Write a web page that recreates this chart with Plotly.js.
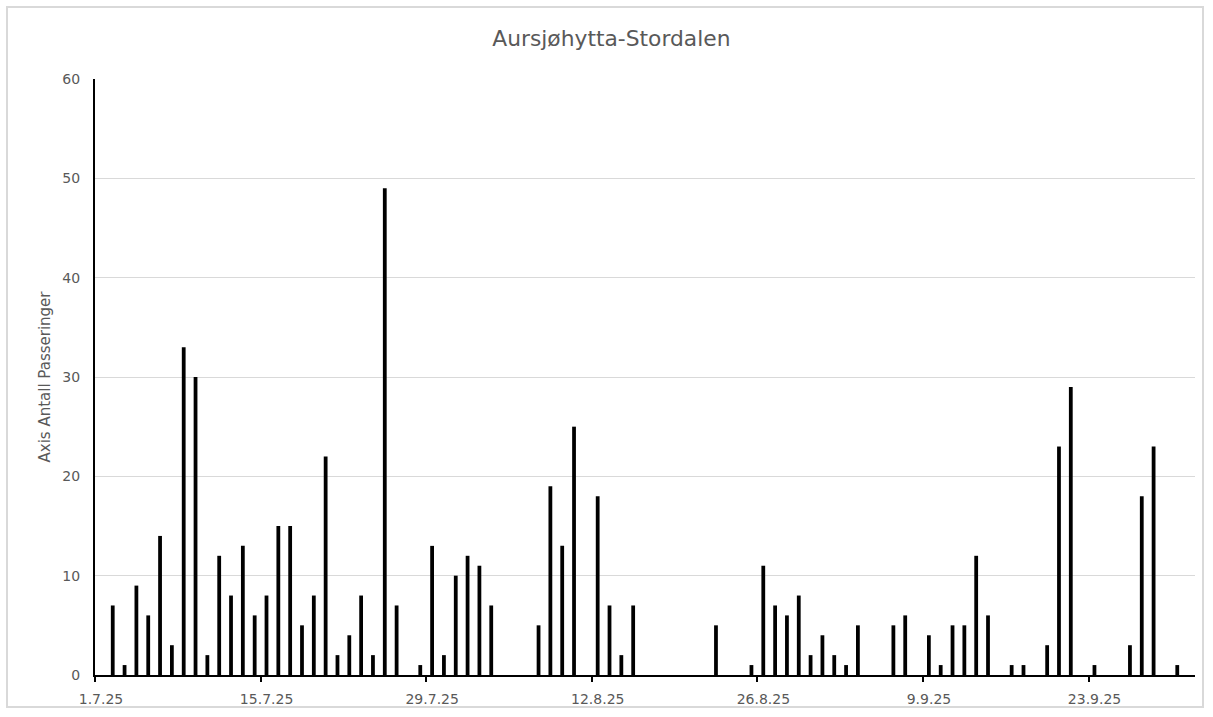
<!DOCTYPE html>
<html>
<head>
<meta charset="utf-8">
<script src="https://cdn.plot.ly/plotly-3.0.1.min.js"></script>
<style>
  html, body { margin: 0; padding: 0; background: #ffffff; }
  #wrap { position: relative; width: 1213px; height: 717px; }
  #chart { width: 1213px; height: 717px; }
  #frame { position: absolute; left: 6px; top: 6px; width: 1198px; height: 702px;
           border: 2px solid #d9d9d9; pointer-events: none; box-sizing: border-box; }
</style>
</head>
<body>
<div id="wrap">
  <div id="chart"></div>
  <div id="frame"></div>
</div>
<script>
// Daily passings (dates with a count; empty days omitted)
const dates = [
  '2025-07-02','2025-07-03','2025-07-04','2025-07-05','2025-07-06','2025-07-07','2025-07-08','2025-07-09',
  '2025-07-10','2025-07-11','2025-07-12','2025-07-13','2025-07-14','2025-07-15','2025-07-16','2025-07-17',
  '2025-07-18','2025-07-19','2025-07-20','2025-07-21','2025-07-22','2025-07-23','2025-07-24','2025-07-25',
  '2025-07-26',
  '2025-07-28','2025-07-29','2025-07-30','2025-07-31','2025-08-01','2025-08-02','2025-08-03',
  '2025-08-07','2025-08-08','2025-08-09','2025-08-10',
  '2025-08-12','2025-08-13','2025-08-14','2025-08-15',
  '2025-08-22',
  '2025-08-25','2025-08-26','2025-08-27','2025-08-28','2025-08-29','2025-08-30','2025-08-31','2025-09-01',
  '2025-09-02','2025-09-03',
  '2025-09-06','2025-09-07','2025-09-09','2025-09-10','2025-09-11','2025-09-12','2025-09-13','2025-09-14',
  '2025-09-16','2025-09-17','2025-09-19','2025-09-20','2025-09-21','2025-09-23',
  '2025-09-26','2025-09-27','2025-09-28','2025-09-30'
];
const passings = [
  7, 1, 9, 6, 14, 3, 33, 30,
  2, 12, 8, 13, 6, 8, 15, 15,
  5, 8, 22, 2, 4, 8, 2, 49,
  7,
  1, 13, 2, 10, 12, 11, 7,
  5, 19, 13, 25,
  18, 7, 2, 7,
  5,
  1, 11, 7, 6, 8, 2, 4, 2,
  1, 5,
  5, 6, 4, 1, 5, 5, 12, 6,
  1, 1, 3, 23, 29, 1,
  3, 18, 23, 1
];
const chartTitle = 'Aursjøhytta-Stordalen';
const yTitle = 'Axis Antall Passeringer';
const xStart = '2025-07-01';
const xEnd = '2025-10-02';

const DAY = 86400000;
const grey = '#595959';
const fontFamily = '"DejaVu Sans", "Noto Sans", sans-serif';

const trace = {
  type: 'bar',
  x: dates,
  y: passings,
  xperiod: DAY,
  xperiodalignment: 'middle',
  marker: { color: '#000000', line: { width: 0 } },
  hoverinfo: 'x+y'
};

const layout = {
  width: 1213,
  height: 717,
  margin: { l: 95, r: 18, t: 79, b: 42 },
  paper_bgcolor: '#ffffff',
  plot_bgcolor: '#ffffff',
  bargap: 0.68,
  showlegend: false,
  font: { family: fontFamily, color: grey, size: 13 },
  title: {
    text: chartTitle,
    font: { family: fontFamily, size: 21.8, color: grey },
    x: 0.504, xref: 'container', xanchor: 'center',
    y: 0.946, yref: 'container', yanchor: 'middle'
  },
  xaxis: {
    type: 'date',
    range: [xStart, xEnd],
    tick0: xStart,
    dtick: 14 * DAY,
    tickformat: '%-d.%-m.%y',
    ticks: 'outside',
    ticklen: 5,
    tickwidth: 1.5,
    tickcolor: '#000000',
    ticklabelshift: 6,
    ticklabelstandoff: 5,
    showline: true,
    linecolor: '#000000',
    linewidth: 2,
    showgrid: false,
    zeroline: false,
    tickfont: { family: fontFamily, size: 14, color: grey }
  },
  yaxis: {
    range: [0, 60],
    dtick: 10,
    tick0: 0,
    ticks: '',
    showline: true,
    linecolor: '#000000',
    linewidth: 2,
    showgrid: true,
    gridcolor: '#d9d9d9',
    gridwidth: 1.3,
    zeroline: false,
    ticklabelstandoff: 10,
    tickfont: { family: fontFamily, size: 14, color: grey },
    title: {
      text: yTitle,
      font: { family: fontFamily, size: 15, color: grey },
      standoff: 8
    }
  }
};

Plotly.newPlot('chart', [trace], layout, { displayModeBar: false });
</script>
</body>
</html>
